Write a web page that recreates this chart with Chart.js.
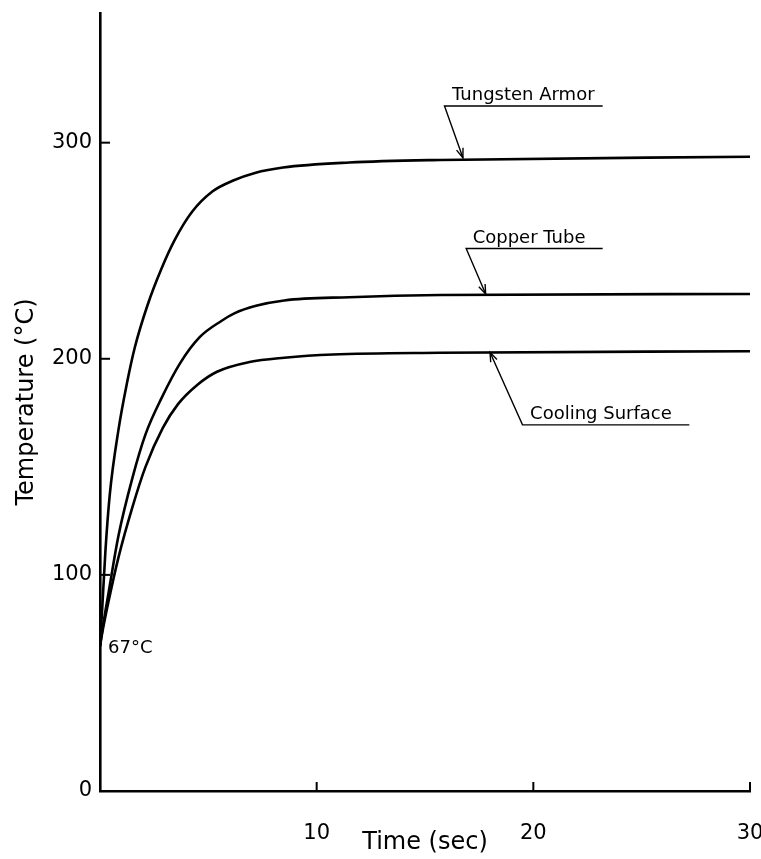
<!DOCTYPE html>
<html>
<head>
<meta charset="utf-8">
<script src="https://cdn.jsdelivr.net/npm/chart.js@4.4.1/dist/chart.umd.min.js"></script>
<style>
  html, body { margin: 0; padding: 0; background: #fff; }
  #wrap { width: 761px; height: 859px; }
</style>
</head>
<body>
<div id="wrap"><canvas id="grafico" width="761" height="859"></canvas></div>
<script>
// time (sec) and temperature (°C)
const tungstenT = [0, 0.1, 0.25, 0.45, 0.85, 1.25, 1.6, 2.2, 2.85, 3.45, 4.25, 5.2, 6.15, 7.15, 8.45, 11.5, 15.7, 30];
const tungstenV = [67, 84, 111, 137, 167, 189, 205, 225, 242, 255, 268, 277.5, 282.5, 286, 288.5, 290.8, 292, 293.5];

const copperT = [0, 0.1, 0.4, 0.85, 1.5, 2.1, 2.85, 3.7, 4.6, 5.6, 6.2, 7.2, 8.5, 11.5, 15.7, 30];
const copperV = [67, 74, 92, 118, 145, 165, 182, 198, 210, 217.5, 221, 224.5, 227, 228.5, 229.5, 230];

const coolingT = [0, 0.1, 0.4, 0.85, 1.5, 2.1, 2.9, 3.6, 4.5, 5.4, 6.9, 8.5, 10.75, 15.7, 30];
const coolingV = [67, 73, 88, 108, 131.5, 150, 168, 179, 188, 194, 198.5, 200.5, 202, 202.8, 203.5];

const xTicks = [10, 20, 30];
const yTicks = [0, 100, 200, 300];

// labels with leader lines: text start, underline ends, arrow tip (data units)
const labels = [
    { text: 'Tungsten Armor', tx: 16.25, u1: 15.9, u2: 23.2, uy: 317, ax: 16.75, ay: 293 },
    { text: 'Copper Tube', tx: 17.2, u1: 16.9, u2: 23.2, uy: 251, ax: 17.8, ay: 230 },
    { text: 'Cooling Surface', tx: 19.85, u1: 19.5, u2: 27.2, uy: 169.4, ax: 18.0, ay: 203 }
];

const fonte = '"DejaVu Sans", sans-serif';

function pares(ts, vs) {
    return ts.map((t, i) => ({ x: t, y: vs[i] }));
}

const serie = (nome, ts, vs) => ({
    label: nome,
    data: pares(ts, vs),
    borderColor: '#000',
    borderWidth: 2.6,
    pointRadius: 0,
    showLine: true,
    fill: false,
    cubicInterpolationMode: 'monotone'
});

// ticks pointing inward + annotations
const anotacoes = {
    id: 'anotacoes',
    afterDatasetsDraw(chart) {
        const ctx = chart.ctx;
        const xs = chart.scales.x, ys = chart.scales.y;
        ctx.save();
        ctx.strokeStyle = '#000';
        ctx.fillStyle = '#000';

        // inward ticks
        ctx.lineWidth = 2;
        yTicks.forEach(v => {
            if (v === 0) return;
            const py = ys.getPixelForValue(v);
            ctx.beginPath();
            ctx.moveTo(xs.left, py);
            ctx.lineTo(xs.left + 10, py);
            ctx.stroke();
        });
        xTicks.forEach(v => {
            const px = xs.getPixelForValue(v);
            ctx.beginPath();
            ctx.moveTo(px, ys.bottom);
            ctx.lineTo(px, ys.bottom - 9);
            ctx.stroke();
        });

        // 67°C note
        ctx.font = '18px ' + fonte;
        ctx.textBaseline = 'middle';
        ctx.textAlign = 'left';
        ctx.fillText('67°C', xs.getPixelForValue(0) + 8, ys.getPixelForValue(67) + 2);

        // labels
        labels.forEach(l => {
            const uy = ys.getPixelForValue(l.uy);
            const u1 = xs.getPixelForValue(l.u1);
            const u2 = xs.getPixelForValue(l.u2);
            const axp = xs.getPixelForValue(l.ax);
            const ayp = ys.getPixelForValue(l.ay);

            ctx.textBaseline = 'alphabetic';
            ctx.fillText(l.text, xs.getPixelForValue(l.tx), uy - 6);

            ctx.lineWidth = 1.4;
            ctx.beginPath();
            ctx.moveTo(u2, uy);
            ctx.lineTo(u1, uy);
            ctx.lineTo(axp, ayp);
            ctx.stroke();

            // arrow head
            const ang = Math.atan2(ayp - uy, axp - u1);
            const len = 10, abre = 0.35;
            ctx.beginPath();
            ctx.moveTo(axp - len * Math.cos(ang - abre), ayp - len * Math.sin(ang - abre));
            ctx.lineTo(axp, ayp);
            ctx.lineTo(axp - len * Math.cos(ang + abre), ayp - len * Math.sin(ang + abre));
            ctx.stroke();
        });
        ctx.restore();
    }
};

const ctx = document.getElementById('grafico').getContext('2d');
new Chart(ctx, {
    type: 'scatter',
    data: {
        datasets: [
            serie('Tungsten Armor', tungstenT, tungstenV),
            serie('Copper Tube', copperT, copperV),
            serie('Cooling Surface', coolingT, coolingV)
        ]
    },
    options: {
        responsive: false,
        animation: false,
        layout: { padding: { left: 0, right: 11, top: 13, bottom: 0 } },
        plugins: {
            legend: { display: false },
            tooltip: { enabled: false }
        },
        scales: {
            x: {
                type: 'linear',
                min: 0,
                max: 30,
                grid: { display: false, drawTicks: false },
                border: { display: true, color: '#000', width: 2.6 },
                ticks: {
                    stepSize: 10,
                    color: '#000',
                    padding: 30,
                    maxRotation: 0,
                    font: { family: fonte, size: 21 },
                    callback: v => (v === 0 ? '' : v)
                },
                title: {
                    display: true,
                    text: 'Time (sec)',
                    color: '#000',
                    font: { family: fonte, size: 24 },
                    padding: { top: 0, bottom: 2 }
                },
                afterFit: s => {
                    s.height = 68;
                    s.paddingLeft = 0;
                    s.paddingRight = 0;
                }
            },
            y: {
                type: 'linear',
                min: 0,
                max: 360,
                grid: { display: false, drawTicks: false },
                border: { display: true, color: '#000', width: 2.6 },
                ticks: {
                    stepSize: 100,
                    color: '#000',
                    padding: 8,
                    font: { family: fonte, size: 21 },
                    callback: v => (v % 100 === 0 ? v : '')
                },
                title: {
                    display: true,
                    text: 'Temperature (°C)',
                    color: '#000',
                    font: { family: fonte, size: 24 },
                    padding: { top: 12, bottom: 0 }
                },
                afterFit: s => {
                    s.width = 100;
                    s.paddingTop = 0;
                    s.paddingBottom = 0;
                }
            }
        }
    },
    plugins: [anotacoes]
});
</script>
</body>
</html>
